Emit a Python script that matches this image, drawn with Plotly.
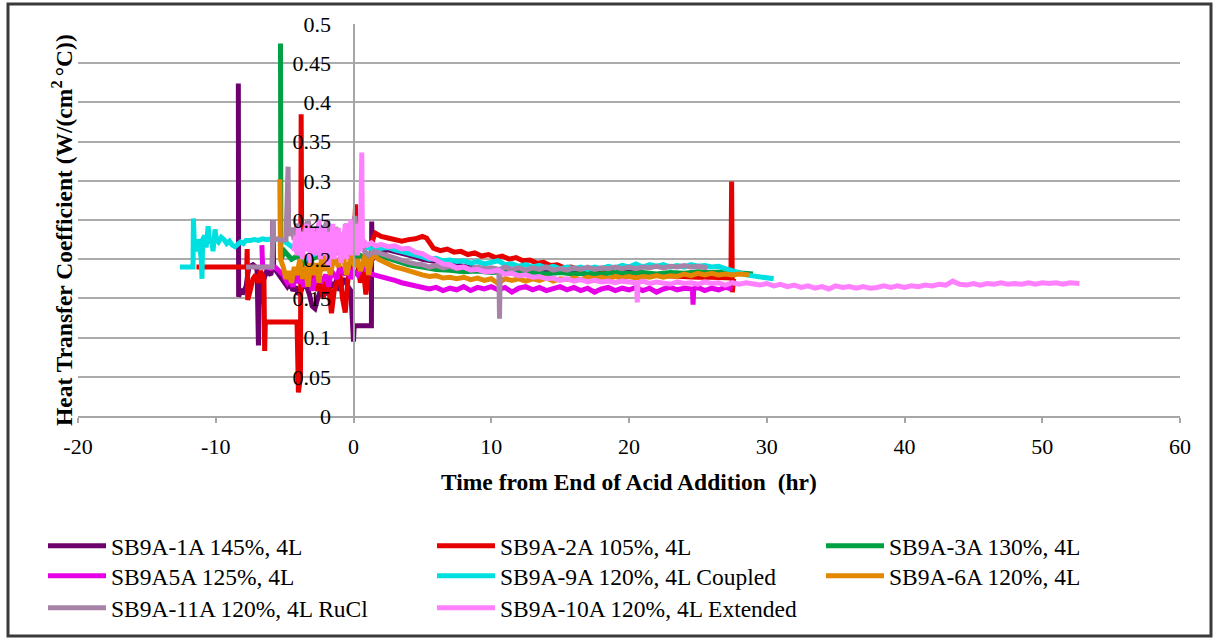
import plotly.graph_objects as go

# ---------------- data ----------------
names = ["SB9A-1A 145%, 4L", "SB9A-2A 105%, 4L", "SB9A-3A 130%, 4L",
         "SB9A5A 125%, 4L", "SB9A-9A 120%, 4L Coupled", "SB9A-6A 120%, 4L",
         "SB9A-11A 120%, 4L RuCl", "SB9A-10A 120%, 4L Extended"]
colors = ["#6e006e", "#e60000", "#00a044", "#e600e6", "#00e0e0", "#e38600",
          "#a883a8", "#ff80ff"]
legend_rows = ["legend", "legend", "legend", "legend2", "legend2", "legend2",
               "legend3", "legend3"]

x_1A = [-8.36, -8.34, -8.2, -8.0, -7.8, -7.6, -7.3, -7.1, -7.0, -6.95, -6.9, -6.85, -6.7, -6.5,
        -6.3, -6.0, -5.9, -5.85, -5.8, -5.6, -5.4, -5.2, -5.0, -4.8, -4.6, -4.4, -4.2, -4.0, -3.8,
        -3.6, -3.4, -3.2, -3.0, -2.8, -2.6, -2.4, -2.2, -2.0, -1.8, -1.6, -1.4, -1.2, -1.0, -0.8,
        -0.6, -0.4, -0.2, 0.0, 0.05, 1.3, 1.32, 1.38, 1.6, 2.0, 2.5, 3.0, 3.5, 4.0, 4.5, 5.0, 6.0,
        7.0, 8.0, 9.0, 10.0, 12.0, 14.0, 16.0, 18.0, 20.0, 21.0]
y_1A = [0.424, 0.152, 0.16, 0.158, 0.165, 0.19, 0.193, 0.19, 0.186, 0.15, 0.09, 0.14, 0.17, 0.175,
        0.185, 0.18, 0.19, 0.25, 0.19, 0.185, 0.18, 0.175, 0.17, 0.165, 0.17, 0.16, 0.165, 0.155, 0.16,
        0.17, 0.165, 0.155, 0.14, 0.137, 0.15, 0.16, 0.165, 0.155, 0.16, 0.17, 0.165, 0.175, 0.16,
        0.17, 0.175, 0.165, 0.16, 0.095, 0.115, 0.115, 0.248, 0.2, 0.205, 0.21, 0.212, 0.21, 0.207,
        0.205, 0.203, 0.2, 0.197, 0.194, 0.19, 0.188, 0.186, 0.185, 0.184, 0.184, 0.183, 0.183, 0.183]

x_2A = [-11.4, -7.75, -7.72, -7.68, -7.5, -7.3, -7.1, -6.9, -6.75, -6.5, -6.45, -6.4, -4.1, -4.0,
        -3.85, -3.8, -3.75, -3.6, -3.4, -3.2, -3.0, -2.8, -2.6, -2.4, -2.2, -2.0, -1.8, -1.6, -1.4,
        -1.2, -1.0, -0.8, -0.6, -0.4, -0.2, 0.0, 0.15, 0.25, 0.5, 0.7, 0.9, 1.1, 1.3, 1.4, 1.6, 2.0,
        2.5, 3.0, 3.5, 4.0, 4.5, 5.0, 5.3, 5.8, 6.3, 6.8, 7.3, 7.8, 8.3, 8.8, 9.3, 9.8, 10.3, 10.8,
        11.3, 11.8, 12.3, 12.8, 13.3, 13.8, 14.3, 14.8, 15.3, 15.8, 16.3, 16.8, 17.5, 18.0, 19.0,
        20.0, 21.0, 22.0, 23.0, 24.0, 25.0, 26.0, 27.0, 27.4, 27.45, 27.5, 27.6]
y_2A = [0.19, 0.19, 0.213, 0.148, 0.16, 0.175, 0.18, 0.17, 0.185, 0.175, 0.083, 0.12, 0.12, 0.03,
        0.05, 0.385, 0.17, 0.175, 0.19, 0.18, 0.195, 0.17, 0.16, 0.175, 0.15, 0.18, 0.165, 0.131,
        0.16, 0.17, 0.185, 0.15, 0.132, 0.175, 0.19, 0.2, 0.27, 0.2, 0.17, 0.19, 0.155, 0.185, 0.2,
        0.225, 0.233, 0.229, 0.227, 0.225, 0.223, 0.225, 0.226, 0.229, 0.227, 0.214, 0.211, 0.213,
        0.209, 0.21, 0.206, 0.208, 0.204, 0.206, 0.202, 0.204, 0.2, 0.202, 0.198, 0.199, 0.195,
        0.196, 0.192, 0.193, 0.189, 0.19, 0.187, 0.187, 0.184, 0.185, 0.182, 0.181, 0.18, 0.179,
        0.178, 0.178, 0.177, 0.177, 0.176, 0.176, 0.299, 0.158, 0.175]

x_3A = [-5.3, -5.27, -5.0, -4.5, -4.0, -3.5, -3.0, -2.5, -2.0, -1.5, -1.0, -0.5, 0.0, 0.5, 1.0,
        1.5, 2.0, 3.0, 4.0, 5.0, 6.0, 7.0, 8.0, 9.0, 10.0, 11.0, 12.0, 13.0, 14.0, 15.0, 16.0,
        17.0, 18.0, 19.0, 20.0, 21.0, 22.0, 23.0, 24.0, 25.0, 26.0, 27.0, 28.0, 29.0]
y_3A = [0.475, 0.2, 0.21, 0.2, 0.205, 0.195, 0.2, 0.205, 0.2, 0.195, 0.2, 0.205, 0.2, 0.205, 0.2,
        0.205, 0.204, 0.198, 0.193, 0.19, 0.187, 0.186, 0.184, 0.185, 0.183, 0.184, 0.182, 0.183,
        0.181, 0.183, 0.181, 0.182, 0.181, 0.183, 0.182, 0.183, 0.181, 0.183, 0.182, 0.184, 0.183,
        0.184, 0.182, 0.181]

x_5A = [-6.65, -6.6, -6.3, -6.0, -5.7, -5.4, -5.1, -4.8, -4.6, -4.4, -4.2, -4.0, -3.8, -3.6, -3.4,
        -3.2, -3.0, -2.8, -2.6, -2.4, -2.2, -2.0, -1.8, -1.6, -1.4, -1.2, -1.0, -0.8, -0.6, -0.4,
        -0.2, 0.0, 0.3, 0.6, 0.9, 1.2, 1.5, 2.0, 2.5, 3.0, 3.5, 4.0, 4.5, 5.0, 5.5, 6.0, 6.5, 7.0,
        7.5, 8.0, 8.5, 9.0, 9.5, 10.0, 10.5, 11.0, 11.5, 12.0, 12.5, 13.0, 13.5, 14.0, 14.5, 15.0,
        15.5, 16.0, 16.5, 17.0, 17.5, 18.0, 18.5, 19.0, 19.5, 20.0, 20.5, 21.0, 21.5, 22.0, 22.5,
        23.0, 23.5, 24.0, 24.6, 24.65, 24.7, 25.0, 25.5, 26.0, 26.5, 27.0, 27.5]
y_5A = [0.218, 0.19, 0.19, 0.188, 0.19, 0.185, 0.18, 0.17, 0.175, 0.165, 0.18, 0.17, 0.175, 0.165,
        0.172, 0.18, 0.16, 0.175, 0.185, 0.17, 0.175, 0.18, 0.165, 0.185, 0.18, 0.175, 0.19, 0.185,
        0.18, 0.19, 0.175, 0.185, 0.18, 0.19, 0.185, 0.182, 0.18, 0.178, 0.175, 0.173, 0.17, 0.168,
        0.167, 0.165, 0.162, 0.164, 0.16, 0.163, 0.161, 0.165, 0.16, 0.164, 0.162, 0.165, 0.161,
        0.164, 0.158, 0.163, 0.165, 0.161, 0.164, 0.16, 0.163, 0.165, 0.161, 0.164, 0.16, 0.163,
        0.158, 0.162, 0.164, 0.16, 0.163, 0.161, 0.164, 0.16, 0.163, 0.158, 0.162, 0.164, 0.161,
        0.163, 0.162, 0.142, 0.162, 0.164, 0.16, 0.163, 0.161, 0.164, 0.162]

x_9A = [-12.6, -11.65, -11.62, -11.55, -11.5, -11.4, -11.3, -11.2, -11.05, -11.0, -10.95, -10.8,
        -10.7, -10.55, -10.45, -10.3, -10.2, -10.05, -9.95, -9.8, -9.6, -9.4, -9.2, -9.0, -8.8,
        -8.6, -8.4, -8.2, -8.0, -7.8, -7.5, -7.2, -6.9, -6.6, -6.3, -6.0, -5.7, -5.4, -5.1, -4.8,
        -4.4, -4.0, -3.5, -3.0, -2.5, -2.0, -1.5, -1.0, -0.5, 0.0, 0.5, 1.0, 1.5, 2.0, 2.5, 3.0,
        3.5, 4.0, 4.5, 5.0, 5.5, 6.0, 6.5, 7.0, 7.5, 8.0, 8.5, 9.0, 9.5, 10.0, 10.5, 11.0, 11.5,
        12.0, 12.5, 13.0, 13.5, 14.0, 14.5, 15.0, 15.5, 16.0, 16.5, 17.0, 17.5, 18.0, 18.5, 19.0,
        19.5, 20.0, 20.5, 21.0, 21.5, 22.0, 22.5, 23.0, 23.5, 24.0, 24.5, 25.0, 25.5, 26.0, 26.5,
        27.0, 27.5, 28.0, 28.5, 29.0, 29.5, 30.0, 30.5]
y_9A = [0.19, 0.19, 0.252, 0.215, 0.22, 0.21, 0.225, 0.22, 0.2, 0.175, 0.225, 0.23, 0.215, 0.242,
        0.22, 0.228, 0.21, 0.238, 0.225, 0.222, 0.228, 0.225, 0.22, 0.223, 0.218, 0.216, 0.219,
        0.222, 0.22, 0.224, 0.224, 0.225, 0.224, 0.226, 0.225, 0.226, 0.225, 0.226, 0.224, 0.22,
        0.215, 0.21, 0.2, 0.205, 0.21, 0.215, 0.205, 0.21, 0.215, 0.21, 0.22, 0.215, 0.212, 0.214,
        0.215, 0.212, 0.21, 0.207, 0.205, 0.203, 0.2, 0.201, 0.198, 0.199, 0.197, 0.198, 0.195,
        0.197, 0.194, 0.196, 0.198, 0.193, 0.194, 0.191, 0.193, 0.19, 0.192, 0.189, 0.191, 0.188,
        0.19, 0.188, 0.19, 0.187, 0.19, 0.188, 0.191, 0.189, 0.192, 0.19, 0.194, 0.19, 0.193,
        0.191, 0.193, 0.19, 0.192, 0.19, 0.193, 0.191, 0.192, 0.19, 0.191, 0.188, 0.186, 0.183,
        0.18, 0.179, 0.177, 0.177, 0.175]

x_6A = [-5.35, -5.3, -5.1, -4.9, -4.7, -4.5, -4.3, -4.1, -3.9, -3.7, -3.5, -3.3, -3.1, -2.9, -2.7,
        -2.5, -2.3, -2.1, -1.9, -1.7, -1.5, -1.3, -1.1, -0.9, -0.7, -0.5, -0.3, -0.1, 0.1, 0.3, 0.5,
        0.7, 0.9, 1.1, 1.3, 1.5, 1.8, 2.2, 2.6, 3.0, 3.5, 4.0, 4.5, 5.0, 5.5, 6.0, 6.5, 7.0, 7.5,
        8.0, 8.5, 9.0, 9.5, 10.0, 10.5, 11.0, 11.5, 12.0, 12.5, 13.0, 13.5, 14.0, 14.5, 15.0, 15.5,
        16.0, 16.5, 17.0, 17.5, 18.0, 18.5, 19.0, 19.5, 20.0, 20.5, 21.0, 21.5, 22.0, 22.5, 23.0,
        23.5, 24.0, 24.5, 25.0, 25.5, 26.0, 26.5, 27.0, 27.5, 28.0, 28.7]
y_6A = [0.302, 0.2, 0.19, 0.175, 0.185, 0.17, 0.19, 0.18, 0.2, 0.175, 0.19, 0.165, 0.2, 0.18, 0.195,
        0.17, 0.205, 0.185, 0.21, 0.18, 0.195, 0.2, 0.19, 0.205, 0.2, 0.18, 0.195, 0.205, 0.19, 0.2,
        0.185, 0.195, 0.21, 0.18, 0.2, 0.205, 0.2, 0.197, 0.193, 0.19, 0.188, 0.185, 0.182, 0.18,
        0.178, 0.179, 0.176, 0.177, 0.175, 0.177, 0.174, 0.176, 0.173, 0.175, 0.169, 0.175, 0.173,
        0.175, 0.172, 0.175, 0.173, 0.176, 0.172, 0.175, 0.174, 0.176, 0.174, 0.177, 0.175, 0.177,
        0.175, 0.178, 0.176, 0.178, 0.176, 0.178, 0.177, 0.179, 0.177, 0.179, 0.178, 0.181, 0.179,
        0.182, 0.18, 0.182, 0.18, 0.181, 0.18, 0.181, 0.18]

x_11A = [-7.8, -5.9, -5.85, -5.8, -5.5, -5.2, -4.9, -4.75, -4.7, -4.5, -4.3, -4.1, -3.9, -3.7, -3.5,
         -3.3, -3.1, -2.9, -2.7, -2.5, -2.3, -2.1, -1.9, -1.7, -1.5, -1.3, -1.1, -0.9, -0.7, -0.5,
         -0.3, -0.1, 0.1, 0.3, 0.5, 0.8, 1.1, 1.5, 2.0, 2.5, 3.0, 3.5, 4.0, 4.5, 5.0, 5.5, 6.0, 6.5,
         7.0, 7.5, 8.0, 8.5, 9.0, 9.5, 10.0, 10.55, 10.6, 10.65, 11.0, 11.5, 12.0, 12.5, 13.0, 13.5,
         14.0, 14.5, 15.0, 15.5, 16.0, 16.5, 17.0, 17.5, 18.0, 18.5, 19.0, 19.5, 20.0, 20.5, 21.0,
         21.5, 22.0, 22.5, 23.0, 23.5, 24.0, 24.5, 25.0, 25.7]
y_11A = [0.19, 0.19, 0.25, 0.225, 0.226, 0.224, 0.225, 0.318, 0.23, 0.24, 0.225, 0.245, 0.23, 0.22,
         0.24, 0.25, 0.23, 0.215, 0.235, 0.245, 0.22, 0.24, 0.25, 0.23, 0.22, 0.24, 0.235, 0.215,
         0.23, 0.245, 0.225, 0.235, 0.255, 0.215, 0.22, 0.21, 0.205, 0.21, 0.207, 0.204, 0.201,
         0.198, 0.196, 0.194, 0.193, 0.19, 0.192, 0.189, 0.191, 0.188, 0.19, 0.187, 0.19, 0.188,
         0.189, 0.187, 0.124, 0.187, 0.19, 0.187, 0.189, 0.186, 0.189, 0.187, 0.19, 0.186, 0.188,
         0.186, 0.189, 0.187, 0.19, 0.187, 0.189, 0.188, 0.19, 0.188, 0.19, 0.188, 0.19, 0.189,
         0.191, 0.189, 0.191, 0.19, 0.192, 0.19, 0.191, 0.189]

x_10A = [-4.3, -4.2, -4.1, -4.0, -3.9, -3.8, -3.7, -3.6, -3.5, -3.4, -3.3, -3.2, -3.1, -3.0, -2.9,
         -2.8, -2.7, -2.6, -2.5, -2.4, -2.3, -2.2, -2.1, -2.0, -1.9, -1.8, -1.7, -1.6, -1.5, -1.4,
         -1.3, -1.2, -1.1, -1.0, -0.9, -0.8, -0.7, -0.6, -0.5, -0.4, -0.3, -0.2, -0.1, 0.0, 0.1,
         0.2, 0.3, 0.4, 0.5, 0.6, 0.65, 0.8, 1.0, 1.3, 1.6, 2.0, 2.5, 3.0, 3.5, 4.0, 4.5, 5.0, 5.5,
         6.0, 6.5, 7.0, 7.5, 8.0, 8.5, 9.0, 9.5, 10.0, 10.5, 11.0, 11.5, 12.0, 12.5, 13.0, 13.5,
         14.0, 14.5, 15.0, 15.5, 16.0, 16.5, 17.0, 17.5, 18.0, 18.5, 19.0, 19.5, 20.0, 20.55, 20.6,
         20.65, 21.0, 21.5, 22.0, 22.5, 23.0, 23.5, 24.0, 24.5, 25.0, 25.5, 26.0, 26.5, 27.0, 27.5,
         28.0, 28.5, 29.0, 29.5, 30.0, 30.5, 31.0, 31.5, 32.0, 32.5, 33.0, 33.5, 34.0, 34.5, 35.0,
         35.5, 36.0, 36.5, 37.0, 37.5, 38.0, 38.5, 39.0, 39.5, 40.0, 40.5, 41.0, 41.5, 42.0, 42.5,
         43.0, 43.5, 44.0, 44.5, 45.0, 45.5, 46.0, 46.5, 47.0, 47.5, 48.0, 48.5, 49.0, 49.5, 50.0,
         50.5, 51.0, 51.5, 52.0, 52.7]
y_10A = [0.21, 0.23, 0.205, 0.24, 0.22, 0.235, 0.2, 0.23, 0.215, 0.245, 0.21, 0.225, 0.195, 0.24,
         0.22, 0.205, 0.235, 0.215, 0.25, 0.2, 0.23, 0.215, 0.24, 0.205, 0.225, 0.19, 0.235, 0.215,
         0.245, 0.2, 0.23, 0.21, 0.24, 0.22, 0.195, 0.235, 0.21, 0.245, 0.2, 0.23, 0.215, 0.25, 0.205,
         0.24, 0.22, 0.245, 0.205, 0.23, 0.21, 0.336, 0.215, 0.222, 0.218, 0.221, 0.217, 0.219,
         0.216, 0.217, 0.213, 0.214, 0.209, 0.207, 0.202, 0.199, 0.194, 0.193, 0.189, 0.19, 0.186,
         0.187, 0.184, 0.184, 0.186, 0.181, 0.182, 0.179, 0.18, 0.177, 0.178, 0.175, 0.176, 0.173,
         0.175, 0.172, 0.174, 0.171, 0.173, 0.171, 0.172, 0.17, 0.172, 0.171, 0.17, 0.145, 0.17,
         0.172, 0.169, 0.171, 0.17, 0.168, 0.171, 0.169, 0.17, 0.168, 0.171, 0.169, 0.17, 0.167,
         0.17, 0.168, 0.17, 0.169, 0.167, 0.169, 0.166, 0.168, 0.165, 0.167, 0.164, 0.166, 0.163,
         0.165, 0.162, 0.166, 0.164, 0.165, 0.163, 0.165, 0.163, 0.164, 0.166, 0.164, 0.166, 0.164,
         0.166, 0.165, 0.167, 0.166, 0.168, 0.167, 0.172, 0.168, 0.167, 0.169, 0.167, 0.169, 0.168,
         0.17, 0.168, 0.169, 0.168, 0.17, 0.168, 0.17, 0.169, 0.17, 0.168, 0.17, 0.169]

series_x = [x_1A, x_2A, x_3A, x_5A, x_9A, x_6A, x_11A, x_10A]
series_y = [y_1A, y_2A, y_3A, y_5A, y_9A, y_6A, y_11A, y_10A]

x_tickvals = [-20, -10, 0, 10, 20, 30, 40, 50, 60]
x_ticktext = ["-20", "-10", "0", "10", "20", "30", "40", "50", "60"]
y_tickvals = [0, 0.05, 0.1, 0.15, 0.2, 0.25, 0.3, 0.35, 0.4, 0.45, 0.5]
y_ticktext = ["0", "0.05", "0.1", "0.15", "0.2", "0.25", "0.3", "0.35", "0.4", "0.45", "0.5"]

x_title = "Time from End of Acid Addition  (hr)"
y_title = "Heat Transfer Coefficient (W/(cm<sup>2 </sup>°C))"

# ---------------- figure ----------------
FONT = "Liberation Serif, Times New Roman, serif"
FS = 23.5
TICK_FS = 22
fig = go.Figure()
for nm, xs, ys, c, lg in zip(names, series_x, series_y, colors, legend_rows):
    fig.add_trace(go.Scatter(x=xs, y=ys, mode="lines", name=nm, legend=lg,
                             line=dict(color=c, width=5)))

W, H = 1218, 640
L, R, T, B = 78, 38, 24, 224
pw, ph = W - L - R, H - T - B

def px_x(p):
    return (p - L) / pw

def px_y(p):
    return (H - B - p) / ph

def legend_row(top_px):
    return dict(orientation="h", x=px_x(43), y=px_y(top_px), xanchor="left", yanchor="top",
                entrywidth=316, itemwidth=58, font=dict(family=FONT, size=FS),
                bgcolor="rgba(0,0,0,0)")

fig.update_layout(
    width=W, height=H,
    margin=dict(l=L, r=R, t=T, b=B, autoexpand=False),
    paper_bgcolor="white", plot_bgcolor="white",
    font=dict(family=FONT, size=FS, color="black"),
    showlegend=True,
    legend=legend_row(524),
    legend2=legend_row(554),
    legend3=legend_row(586),
    xaxis=dict(range=[-20, 60], tickvals=x_tickvals, ticktext=x_ticktext,
               showgrid=False, zeroline=False, showline=True, linecolor="#a6a6a6",
               linewidth=2, ticks="outside", ticklen=5, tickcolor="#a6a6a6", tickwidth=2,
               ticklabelstandoff=5, tickfont=dict(family=FONT, size=TICK_FS)),
    yaxis=dict(range=[0, 0.5], tickvals=y_tickvals, ticktext=y_ticktext,
               anchor="free", position=0.25, showgrid=True, gridcolor="#ababab",
               gridwidth=2, zeroline=False, showline=True, linecolor="#a6a6a6",
               linewidth=2, ticks="", ticklabelstandoff=17,
               tickfont=dict(family=FONT, size=TICK_FS)),
    annotations=[
        dict(text="<b>" + x_title + "</b>", xref="paper", yref="paper",
             x=0.5, y=px_y(482), xanchor="center", yanchor="middle", showarrow=False,
             font=dict(family=FONT, size=FS)),
        dict(text="<b>" + y_title + "</b>", xref="paper", yref="paper",
             x=px_x(62), y=px_y(230), xanchor="center", yanchor="middle", showarrow=False,
             textangle=-90, font=dict(family=FONT, size=FS)),
    ],
    shapes=[dict(type="rect", xref="paper", yref="paper",
                 x0=px_x(8), x1=px_x(1211), y0=px_y(636), y1=px_y(4),
                 line=dict(color="#3a3a3a", width=3), layer="below")],
)

fig.write_html("out.html")
